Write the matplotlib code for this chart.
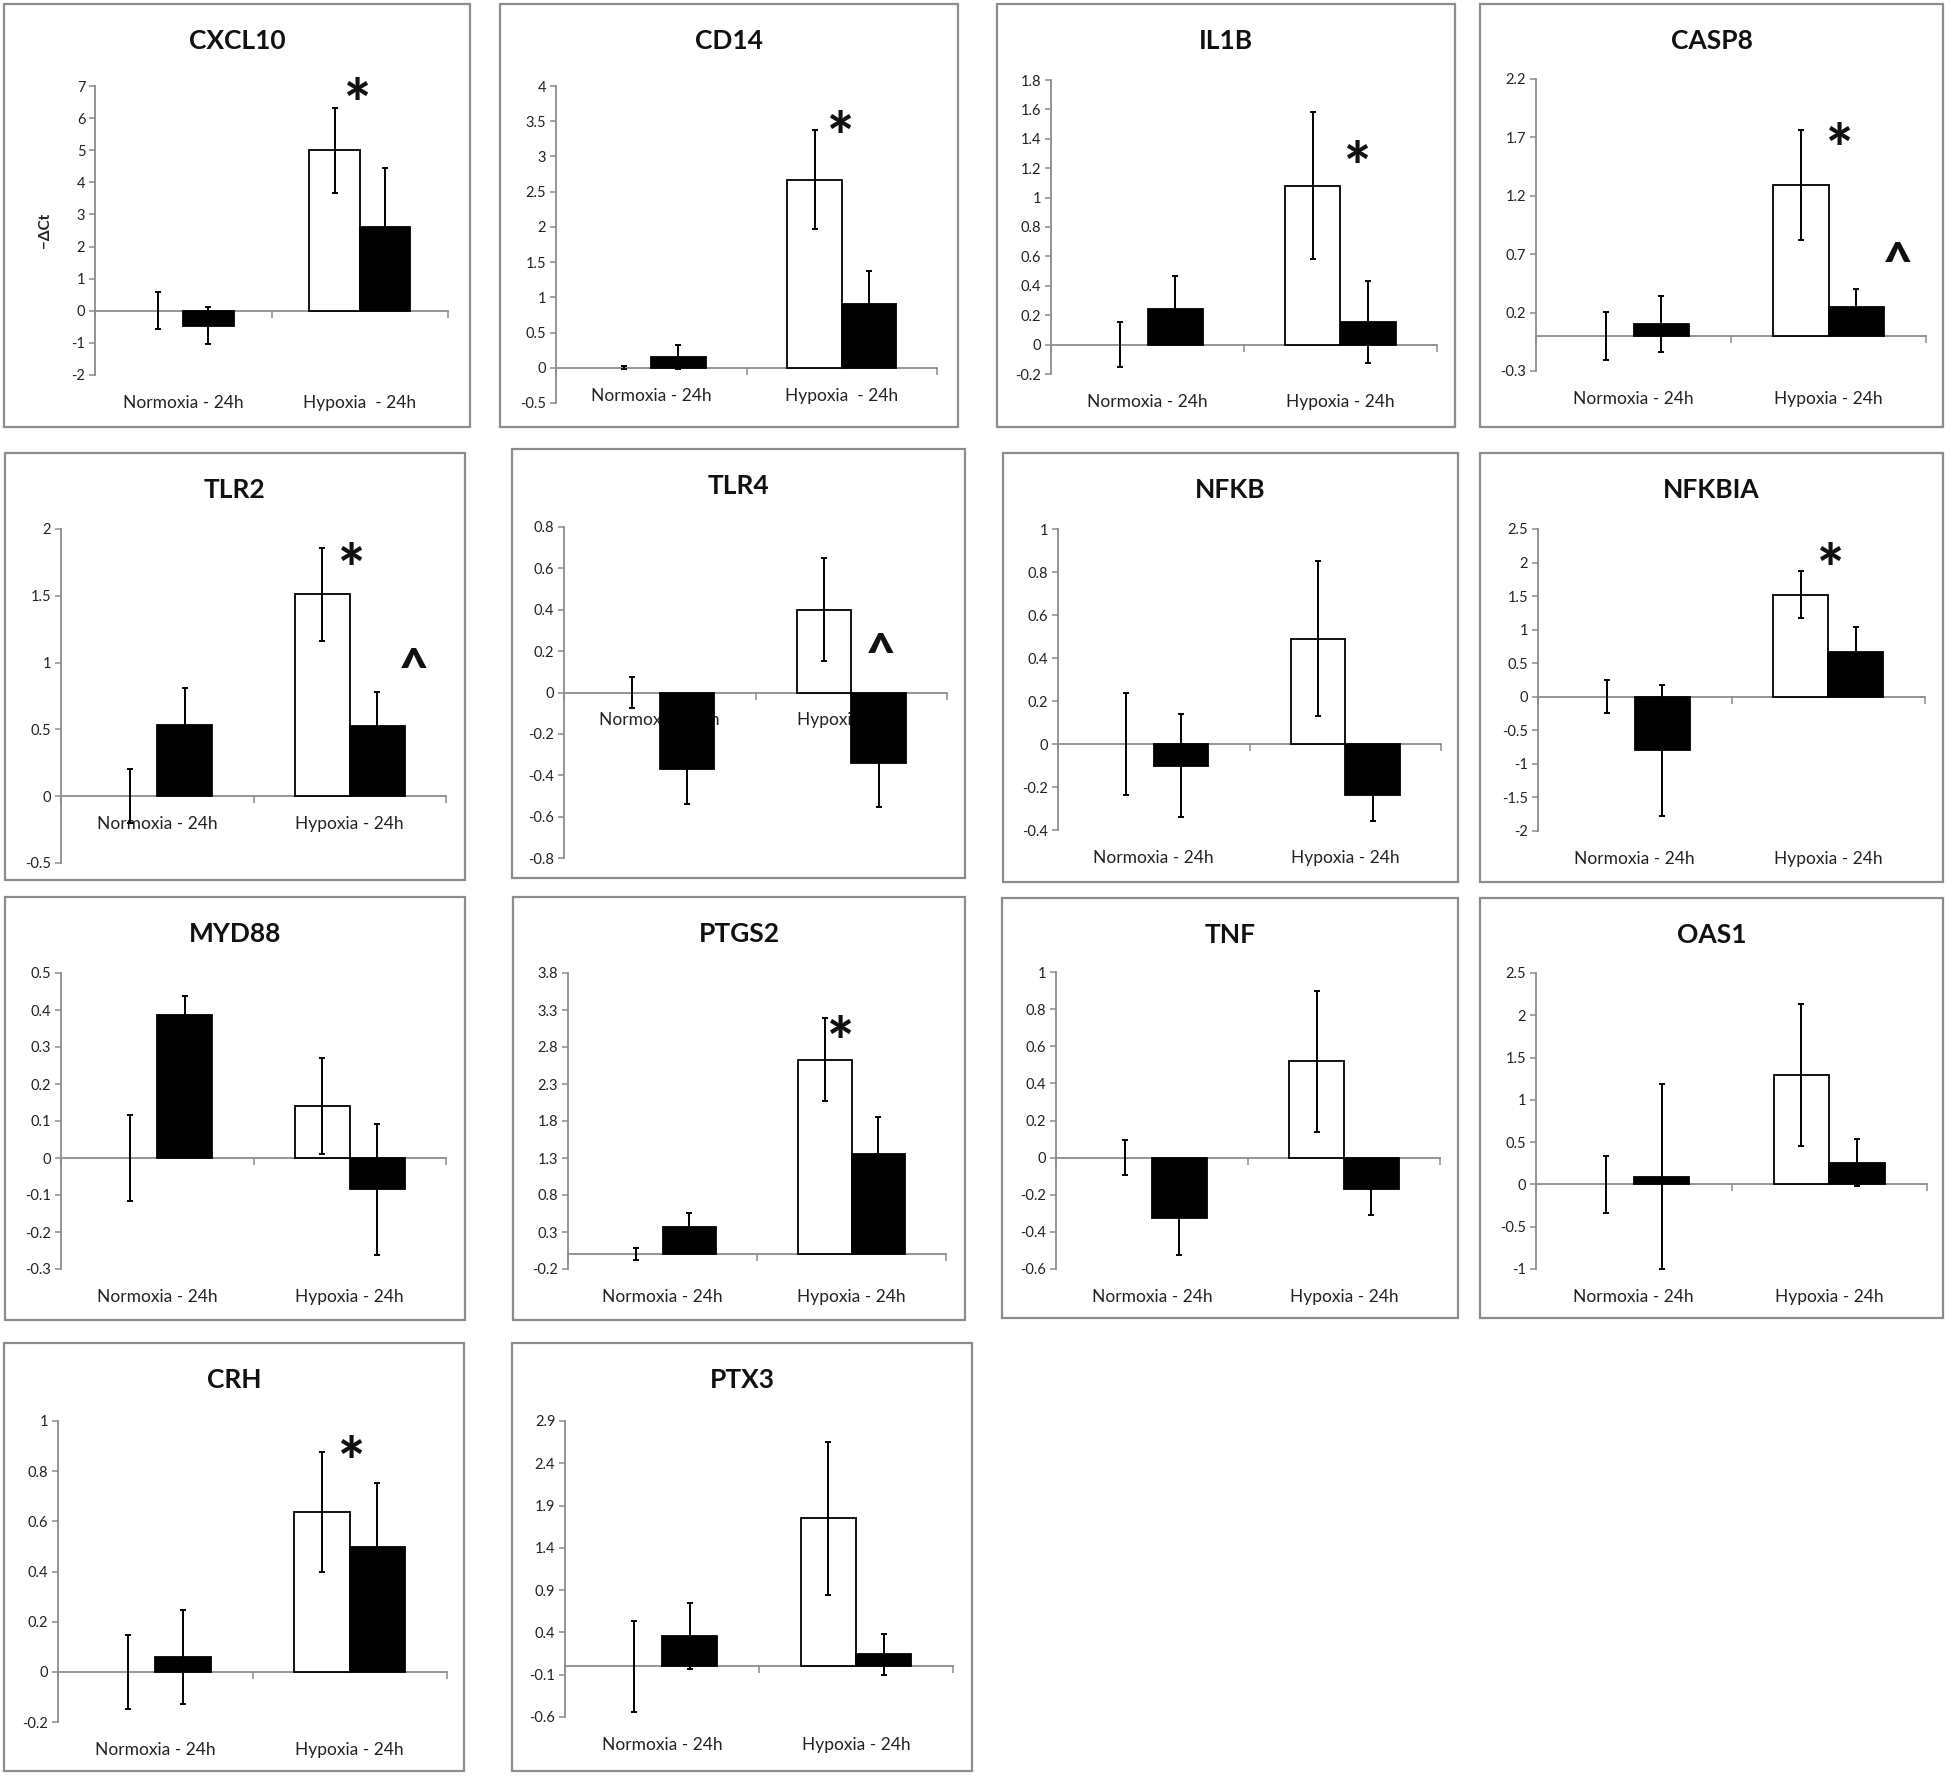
import matplotlib
matplotlib.use('Agg')
import matplotlib.pyplot as plt
from matplotlib.patches import Rectangle
import numpy as np

plt.rcParams['font.family'] = ['Lato', 'DejaVu Sans']

# 데이터
genes = ['CXCL10', 'CD14', 'IL1B', 'CASP8', 'TLR2', 'TLR4', 'NFKB', 'NFKBIA',
         'MYD88', 'PTGS2', 'TNF', 'OAS1', 'CRH', 'PTX3']
groups = ['Normoxia - 24h', 'Hypoxia - 24h']

# [Normoxia, Hypoxia]
white_mean = [[0, 5.0], [0, 2.67], [0, 1.08], [0, 1.29], [0, 1.51], [0, 0.40], [0, 0.49],
              [0, 1.52], [0, 0.14], [0, 2.63], [0, 0.52], [0, 1.29], [0, 0.637], [0, 1.75]]
white_err = [[0.57, 1.32], [0.02, 0.70], [0.155, 0.50], [0.205, 0.47], [0.2, 0.35],
             [0.075, 0.25], [0.235, 0.36], [0.245, 0.35], [0.115, 0.13], [0.08, 0.56],
             [0.096, 0.38], [0.335, 0.84], [0.148, 0.24], [0.54, 0.905]]
black_mean = [[-0.47, 2.61], [0.15, 0.90], [0.243, 0.156], [0.10, 0.25], [0.532, 0.527],
              [-0.37, -0.34], [-0.10, -0.237], [-0.80, 0.664], [0.386, -0.085],
              [0.37, 1.36], [-0.326, -0.168], [0.092, 0.258], [0.059, 0.497], [0.355, 0.142]]
black_err = [[0.58, 1.84], [0.17, 0.48], [0.226, 0.28], [0.24, 0.15], [0.28, 0.25],
             [0.17, 0.215], [0.24, 0.12], [0.98, 0.37], [0.052, 0.177], [0.19, 0.50],
             [0.2, 0.14], [1.09, 0.28], [0.186, 0.255], [0.39, 0.245]]

y_min = [-2, -0.5, -0.2, -0.3, -0.5, -0.8, -0.4, -2, -0.3, -0.2, -0.6, -1, -0.2, -0.6]
y_max = [7, 4, 1.8, 2.2, 2, 0.8, 1, 2.5, 0.5, 3.8, 1, 2.5, 1, 2.9]
y_step = [1, 0.5, 0.2, 0.5, 0.5, 0.2, 0.2, 0.5, 0.1, 0.5, 0.2, 0.5, 0.2, 0.5]
labels_low = [True, False, True, True, False, False, True, True, True, True, True, True, True, True]

# 유의성 표시 (x: 범주 좌표, y: 값)
star_marks = {'CXCL10': (0.985, 6.9), 'CD14': (0.996, 3.49), 'IL1B': (1.09, 1.31),
              'CASP8': (1.055, 1.73), 'TLR2': (1.01, 1.81), 'NFKBIA': (1.01, 2.12),
              'PTGS2': (0.94, 3.07), 'CRH': (1.01, 0.897)}
caret_marks = {'CASP8': (1.356, 0.68), 'TLR2': (1.33, 0.995), 'TLR4': (1.155, 0.215)}

# 레이아웃 (픽셀)
W, H = 1950, 1777
boxes = [(4, 4, 470, 427), (500, 4, 958, 427), (997, 4, 1455, 427), (1480, 4, 1943, 427),
         (5, 453, 465, 880), (512, 449, 965, 878), (1003, 453, 1458, 882), (1480, 453, 1943, 882),
         (5, 897, 465, 1320), (513, 897, 965, 1320), (1002, 898, 1458, 1318), (1480, 898, 1943, 1318),
         (4, 1343, 464, 1771), (512, 1343, 972, 1771)]
axes_px = [(95, 448, 86, 375), (556, 937, 86, 403), (1051, 1437, 80, 374), (1536, 1926, 79, 371),
           (61, 446, 529, 863), (564, 947, 527, 858), (1058, 1441, 529, 830), (1538, 1925, 529, 831),
           (61, 446, 973, 1269), (568, 946, 973, 1269), (1056, 1440, 972, 1269), (1536, 1927, 973, 1269),
           (58, 447, 1421, 1722), (565, 953, 1421, 1717)]

fig = plt.figure(figsize=(W / 100, H / 100), dpi=100)

gray = '#8c8c8c'
bw = 0.285
star_fs = 46
caret_fs = 37

for i, gene in enumerate(genes):
    bx0, by0, bx1, by1 = boxes[i]
    fig.add_artist(Rectangle((bx0 / W, 1 - by1 / H), (bx1 - bx0) / W, (by1 - by0) / H,
                             transform=fig.transFigure, fill=False, ec=gray, lw=1.6))
    fig.text((bx0 + bx1) / 2 / W, 1 - (by0 + 37) / H, gene, ha='center', va='center',
             fontsize=19, fontweight='bold', color='#111111')

    x0, x1, yt, yb = axes_px[i]
    ax = fig.add_axes([x0 / W, 1 - yb / H, (x1 - x0) / W, (yb - yt) / H])
    ax.patch.set_alpha(0)

    x = np.arange(2)
    w_lw = [1.3 if v != 0 else 0 for v in white_mean[i]]
    ax.bar(x - bw / 2, white_mean[i], bw, color='white', edgecolor='black', linewidth=w_lw, zorder=2)
    ax.bar(x + bw / 2, black_mean[i], bw, color='black', edgecolor='black', lw=1.3, zorder=2)
    ax.errorbar(x - bw / 2, white_mean[i], yerr=white_err[i], fmt='none', ecolor='black',
                elinewidth=1.4, capsize=2.5, capthick=1.4, zorder=3)
    ax.errorbar(x + bw / 2, black_mean[i], yerr=black_err[i], fmt='none', ecolor='black',
                elinewidth=1.4, capsize=2.5, capthick=1.4, zorder=3)

    ax.set_xlim(-0.5, 1.5)
    ax.set_ylim(y_min[i], y_max[i])
    ticks = np.round(np.arange(y_min[i], y_max[i] + y_step[i] / 2, y_step[i]), 2) + 0.0
    ax.set_yticks(ticks)
    ax.set_yticklabels(['{:g}'.format(t + 0.0) for t in ticks])
    ax.set_xticks([-0.5, 0.5, 1.5])
    ax.set_xticklabels([])

    for s in ['top', 'right']:
        ax.spines[s].set_visible(False)
    ax.spines['bottom'].set_position(('data', 0))
    ax.spines['bottom'].set_zorder(1)
    for s in ['left', 'bottom']:
        ax.spines[s].set_color(gray)
        ax.spines[s].set_linewidth(1.3)
    ax.tick_params(axis='y', direction='out', length=4, width=1.1, color=gray,
                   labelsize=10.5, labelcolor='#222222', pad=3)
    ax.tick_params(axis='x', direction='out', length=5, width=1.1, color=gray)

    base = y_min[i] if labels_low[i] else 0
    for j, g in enumerate(groups):
        lab = g
        if i < 2 and j == 1:
            lab = 'Hypoxia  - 24h'
        ax.annotate(lab, xy=(j, base), xytext=(0, -20), textcoords='offset points',
                    ha='center', va='center', fontsize=12.5, color='#222222',
                    annotation_clip=False, zorder=1)

    if gene in star_marks:
        sx, sy = star_marks[gene]
        ax.annotate('*', xy=(sx, sy), xytext=(0, -0.3 * star_fs), textcoords='offset points',
                    ha='center', va='center', fontsize=star_fs, fontweight='black',
                    color='#111111', zorder=4, annotation_clip=False)
    if gene in caret_marks:
        cx, cy = caret_marks[gene]
        ax.annotate('^', xy=(cx, cy), xytext=(0, -0.15 * caret_fs), textcoords='offset points',
                    ha='center', va='center', fontsize=caret_fs, fontweight='black',
                    color='#111111', zorder=4, annotation_clip=False)

fig.text(45 / W, 1 - 230 / H, '\u2212\u0394Ct', rotation=90, ha='center', va='center',
         fontsize=11, fontweight='bold', color='#222222')

plt.savefig('out.png', dpi=100)
